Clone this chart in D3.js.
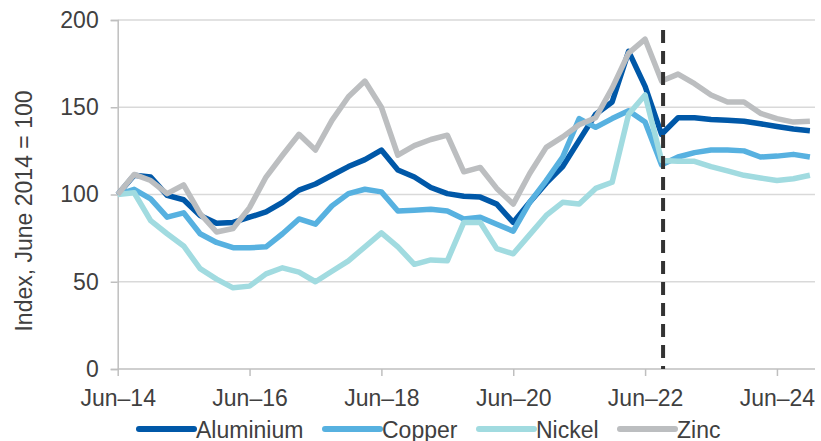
<!DOCTYPE html>
<html><head><meta charset="utf-8">
<script src="https://cdn.jsdelivr.net/npm/d3@7/dist/d3.min.js"></script>
<style>
html,body{margin:0;padding:0;background:#fff;}
svg text{font-family:"Liberation Sans",Arial,Helvetica,sans-serif;fill:#404040;}
</style></head>
<body>
<svg id="chart" width="821" height="441"></svg>
<script>
// Quarterly observations, Jun-14 .. Dec-24 (index: June 2014 = 100)
const quarters = d3.range(43); // 0 = Jun-14, each step one quarter
const aluminium = [100,111,110,99.5,97,88,83.5,84,87,90,95.5,102.5,106,111,116,120,125.5,114,110,104,100.5,99,98.5,94.5,84,95.5,106.5,116,131,146,153,182,162,134.5,144,144,143,142.5,142,140.5,139,137.5,136.5];
const copper    = [100,103,97.5,87,89.5,77.5,72.5,69.5,69.5,70,77.5,86,83,93.5,100.5,103,101.5,90.5,91,91.5,90.5,86,87,83,79,95.5,108,121.5,143.5,138.5,143.5,148,141.5,117,121.5,124,125.5,125.5,125,121.5,122,123,121.5];
const nickel    = [100,101,85,77.5,70.5,57.5,51.5,46.5,47.5,54.5,58,55.5,50,56,62,70,78,70,60,62.5,62,84,84,69,66,77,88,95.5,94.5,103.5,107,146,157,119.5,119,119,116,113.5,111,109.5,108,109,111];
const zinc      = [100,111.5,108,100.5,105.5,89,78.5,80.5,92.5,110,122.5,134.5,125.5,142.5,156,165,150,122.5,128,131.5,134,113,115.5,103.5,94.5,112,127,133,140,144,161,181,189,165,169,163.5,157,153,153,146.5,143.5,141.5,142];
const seriesNames = ["Aluminium","Copper","Nickel","Zinc"];
const seriesColors = ["#0058a8","#57b1e0","#a1dbe0","#bcbec0"];
const xTickIndex = [0,8,16,24,32,40];
const xTickLabels = ["Jun\u201314","Jun\u201316","Jun\u201318","Jun\u201320","Jun\u201322","Jun\u201324"];
const yTicks = [0,50,100,150,200];
const forecastIndex = 33;
const yTitle = "Index, June 2014 = 100";

const svg = d3.select("#chart");
const pLeft = 117.7, pRight = 815, pTop = 20, pBottom = 369;
const x = d3.scaleLinear().domain([0,42]).range([pLeft, 809.9]);
const y = d3.scaleLinear().domain([0,200]).range([pBottom, pTop]);

// gridlines
svg.append("g").selectAll("line").data(yTicks.filter(d=>d>0)).join("line")
  .attr("x1", pLeft).attr("x2", pRight).attr("y1", d=>y(d)).attr("y2", d=>y(d))
  .attr("stroke", "#d9d9d9").attr("stroke-width", 1.5);

// y axis
const yAxis = svg.append("g").attr("transform", `translate(${pLeft},0)`)
  .call(d3.axisLeft(y).tickValues(yTicks).tickSize(7).tickPadding(12));
yAxis.select(".domain").attr("stroke", "#bfbfbf").attr("stroke-width", 1.5);
yAxis.selectAll(".tick line").attr("stroke", "#bfbfbf").attr("stroke-width", 1.5);
yAxis.selectAll("text").attr("font-size", 23).style("fill", "#404040")
  .attr("font-family", '"Liberation Sans",Arial,sans-serif');

// x axis
const xAxis = svg.append("g").attr("transform", `translate(0,${pBottom})`)
  .call(d3.axisBottom(x).tickValues(xTickIndex).tickFormat((d,i)=>xTickLabels[i]).tickSize(7).tickSizeOuter(0).tickPadding(14));
xAxis.select(".domain").attr("d", `M${pLeft},0H${pRight}`).attr("stroke", "#bfbfbf").attr("stroke-width", 1.5);
xAxis.selectAll(".tick line").attr("stroke", "#bfbfbf").attr("stroke-width", 1.5);
xAxis.selectAll("text").attr("font-size", 23).style("fill", "#404040")
  .attr("font-family", '"Liberation Sans",Arial,sans-serif');

// y title
svg.append("text").attr("transform", "translate(32,211) rotate(-90)")
  .attr("text-anchor", "middle").attr("font-size", 23).text(yTitle);

// lines
const data = [aluminium, copper, nickel, zinc];
const line = d3.line().x((d,i)=>x(quarters[i])).y(d=>y(d));
svg.append("g").selectAll("path").data(data).join("path")
  .attr("d", d=>line(d)).attr("fill", "none")
  .attr("stroke", (d,i)=>seriesColors[i]).attr("stroke-width", 5.5)
  .attr("stroke-linejoin", "round").attr("stroke-linecap", "butt");

// forecast divider
svg.append("line").attr("x1", x(forecastIndex)+1.5).attr("x2", x(forecastIndex)+1.5)
  .attr("y1", 30).attr("y2", pBottom)
  .attr("stroke", "#333333").attr("stroke-width", 4).attr("stroke-dasharray", "13,8");

// legend
const legendX = [139, 325, 479, 620];
const lg = svg.append("g").selectAll("g").data(seriesNames).join("g")
  .attr("transform", (d,i)=>`translate(${legendX[i]},429)`);
lg.append("line").attr("x1", 0).attr("x2", 55).attr("y1", 0).attr("y2", 0)
  .attr("stroke", (d,i)=>seriesColors[i]).attr("stroke-width", 6).attr("stroke-linecap", "round");
lg.append("text").attr("x", 57).attr("y", 8.5).attr("font-size", 23).text(d=>d);
</script>
</body></html>
